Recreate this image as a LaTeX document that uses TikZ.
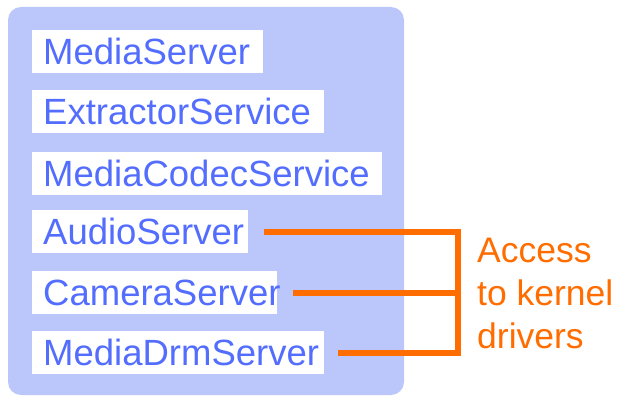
\documentclass[tikz,border=0pt]{standalone}
\usepackage{fontspec}
\setmainfont{Liberation Sans}
\definecolor{panelfill}{HTML}{BBC7FA}
\definecolor{svctext}{HTML}{536DFE}
\definecolor{accent}{HTML}{FF6D00}
\begin{document}
\begin{tikzpicture}[x=1pt,y=-1pt,
  svc/.style={fill=white, anchor=north west, inner xsep=11pt, inner ysep=0pt,
    minimum height=43pt, text height=26pt, text depth=0pt, align=left,
    text=svctext, font=\fontsize{36.5}{42}\selectfont},
  link/.style={draw=accent, line width=6pt}]
  \useasboundingbox (0,0) rectangle (621,396);
  % service container
  \fill[panelfill, rounded corners=13pt] (8,7) rectangle (404,395);
  % services
  \node[svc, text width=209pt] (ms)    at (32,30)  {MediaServer};
  \node[svc, text width=270pt] (ext)   at (32,90)  {ExtractorService};
  \node[svc, text width=328pt] (codec) at (32,152) {MediaCodecService};
  \node[svc, text width=194pt] (audio) at (32,210) {AudioServer};
  \node[svc, text width=223pt] (cam)   at (32,271) {CameraServer};
  \node[svc, text width=270pt] (drm)   at (32,331) {MediaDrmServer};
  % bracket joining the driver-facing services
  \coordinate (bx) at (458,0);
  \draw[link] ([xshift=16pt]audio.east) -- (audio.east -| bx)
              -- (drm.east -| bx) -- ([xshift=14pt]drm.east);
  \draw[link] ([xshift=16pt]cam.east) -- (cam.east -| bx);
  % label (base anchor sits on the last line)
  \node[anchor=base west, align=left, inner sep=0pt, text=accent,
        font=\fontsize{35.5}{43}\selectfont] (lbl) at (477,348)
        {Access\\to kernel\\drivers};
\end{tikzpicture}
\end{document}
